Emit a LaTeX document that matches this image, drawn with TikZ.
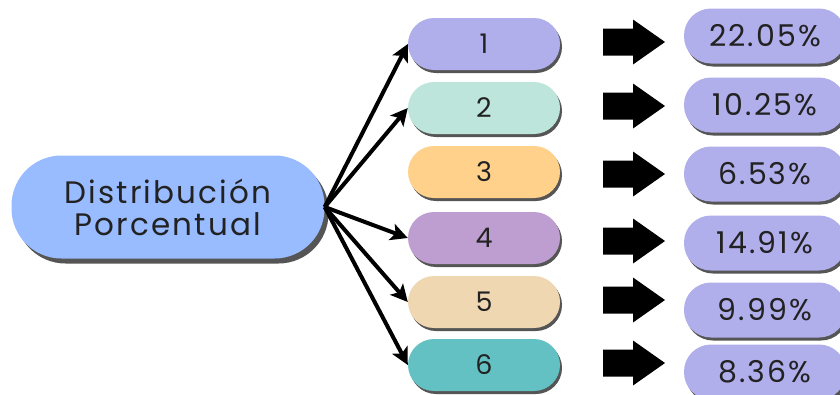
\documentclass[tikz,border=0pt]{standalone}
\usepackage{fontspec}
\setmainfont{Poppins}[LetterSpace=7]
\usetikzlibrary{shadows,arrows.meta}

\definecolor{azulD}{HTML}{99BBFF}
\definecolor{lila}{HTML}{B1AEEC}
\definecolor{menta}{HTML}{BEE5DB}
\definecolor{naranja}{HTML}{FFD18A}
\definecolor{morado}{HTML}{BE9ED0}
\definecolor{beige}{HTML}{EFD7B2}
\definecolor{turquesa}{HTML}{63C1C3}
\definecolor{sombra}{HTML}{555555}
\definecolor{letra}{HTML}{222222}

\begin{document}
\begin{tikzpicture}[x=1pt,y=-1pt,
  pill/.style={rectangle, rounded corners=26pt, minimum width=152pt, minimum height=52pt,
    inner sep=0pt, text=letra, font=\fontsize{27}{29}\selectfont,
    drop shadow={shadow xshift=2pt, shadow yshift=-3pt, fill=sombra, opacity=1}},
  pct/.style={pill, fill=lila, minimum width=162pt, minimum height=55pt, rounded corners=27pt,
    font=\fontsize{30}{32}\selectfont},
  rama/.style={line width=4pt, -{Stealth[length=17pt,width=17pt,inset=4pt]}}]

\useasboundingbox (0,0) rectangle (840,394);

%central node
\node[rectangle, rounded corners=50pt, minimum width=313pt, minimum height=103pt,
  fill=azulD, text=letra, align=center, inner sep=0pt,
  font=\fontsize{31}{32}\selectfont,
  drop shadow={shadow xshift=4pt, shadow yshift=-5pt, fill=sombra, opacity=1}]
  (dp) at (168,207) {Distribución\\Porcentual};

%category nodes
\node[pill, fill=lila] (c1) at (484,44) {1};
\node[pill, fill=menta] (c2) at (484,108) {2};
\node[pill, fill=naranja] (c3) at (484,172) {3};
\node[pill, fill=morado] (c4) at (484,238) {4};
\node[pill, fill=beige] (c5) at (484,302) {5};
\node[pill, fill=turquesa] (c6) at (484,365) {6};

%percent nodes
\node[pct] (p1) at (765,36) {22.05\%};
\node[pct] (p2) at (765,105) {10.25\%};
\node[pct] (p3) at (765,174) {6.53\%};
\node[pct] (p4) at (765,243) {14.91\%};
\node[pct] (p5) at (765,310) {9.99\%};
\node[pct] (p6) at (765,372) {8.36\%};

%block arrows
\coordinate (f1) at (603,42);
\coordinate (f2) at (603,106);
\coordinate (f3) at (603,174);
\coordinate (f4) at (603,241);
\coordinate (f5) at (603,300);
\coordinate (f6) at (603,363);
\fill (f1) ++(0,-13.5) -- ++(30,0) -- ++(0,-9) -- ++(32,22.5) -- ++(-32,22.5) -- ++(0,-9) -- ++(-30,0) -- cycle;
\fill (f2) ++(0,-13.5) -- ++(30,0) -- ++(0,-9) -- ++(32,22.5) -- ++(-32,22.5) -- ++(0,-9) -- ++(-30,0) -- cycle;
\fill (f3) ++(0,-13.5) -- ++(30,0) -- ++(0,-9) -- ++(32,22.5) -- ++(-32,22.5) -- ++(0,-9) -- ++(-30,0) -- cycle;
\fill (f4) ++(0,-13.5) -- ++(30,0) -- ++(0,-9) -- ++(32,22.5) -- ++(-32,22.5) -- ++(0,-9) -- ++(-30,0) -- cycle;
\fill (f5) ++(0,-13.5) -- ++(30,0) -- ++(0,-9) -- ++(32,22.5) -- ++(-32,22.5) -- ++(0,-9) -- ++(-30,0) -- cycle;
\fill (f6) ++(0,-13.5) -- ++(30,0) -- ++(0,-9) -- ++(32,22.5) -- ++(-32,22.5) -- ++(0,-9) -- ++(-30,0) -- cycle;

%branches
\draw[rama] (dp.east) -- (c1.west);
\draw[rama] (dp.east) -- (c2.west);
\draw[rama] (dp.east) -- (c4.west);
\draw[rama] (dp.east) -- (c5.west);
\draw[rama] (dp.east) -- (c6.west);

\end{tikzpicture}
\end{document}
